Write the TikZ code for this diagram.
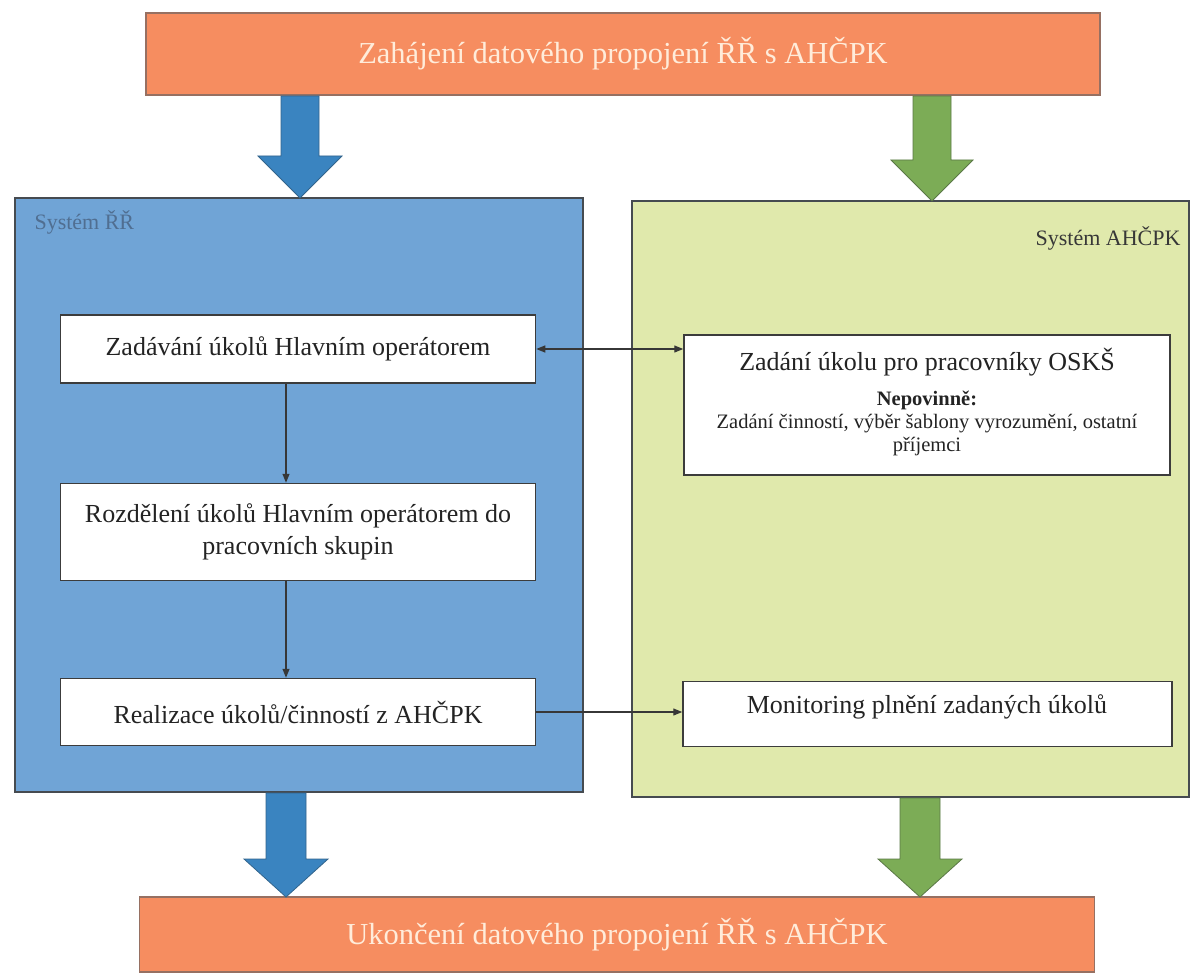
\documentclass[tikz,border=0pt]{standalone}
\usepackage{fontspec}
\setmainfont{Liberation Serif}
\usetikzlibrary{arrows.meta}
\definecolor{orangebar}{RGB}{246,141,96}
\definecolor{orangeedge}{RGB}{150,112,98}
\definecolor{bartext}{RGB}{255,236,218}
\definecolor{bluebox}{RGB}{112,164,214}
\definecolor{bluearrow}{RGB}{58,132,192}
\definecolor{bluearrowedge}{RGB}{50,100,140}
\definecolor{greenbox}{RGB}{224,233,172}
\definecolor{greenarrow}{RGB}{124,172,86}
\definecolor{greenarrowedge}{RGB}{90,120,70}
\definecolor{boxedge}{RGB}{70,75,80}
\definecolor{stepedge}{RGB}{60,60,60}
\definecolor{textcol}{RGB}{35,35,35}
\definecolor{rrlabel}{RGB}{80,110,145}
\definecolor{ahlabel}{RGB}{55,55,55}
\definecolor{arrowcol}{RGB}{55,55,55}
\newcommand{\blockarrow}[8]{% fill, edge, x, ytop, ybase, ytip, halfshaft, halfhead
  \filldraw[fill=#1, draw=#2, line width=0.8pt, line join=miter]
    (#3-#7,#4) -- (#3+#7,#4) -- (#3+#7,#5) -- (#3+#8,#5) -- (#3,#6)
    -- (#3-#8,#5) -- (#3-#7,#5) -- cycle;}
\begin{document}
\begin{tikzpicture}[x=1pt,y=-1pt,
  bar/.style={draw=orangeedge, line width=1.2pt, fill=orangebar, text=bartext,
    font=\fontsize{30.5}{33}\selectfont, inner sep=0pt},
  sysbox/.style={draw=boxedge, line width=1.2pt, inner sep=0pt},
  stepbox/.style={draw=stepedge, line width=1.5pt, fill=white, align=center,
    text=textcol, font=\fontsize{26}{32}\selectfont, inner sep=0pt},
  steptext/.style={text=textcol, font=\fontsize{26}{30}\selectfont, align=center, inner sep=0pt},
  smalltext/.style={text=textcol, font=\fontsize{20.5}{23}\selectfont, align=center, inner sep=0pt},
  thinarrow/.style={draw=arrowcol, line width=1.2pt, -{Triangle[length=9pt,width=7pt]}},
  twoarrow/.style={draw=arrowcol, line width=1.2pt, {Triangle[length=9pt,width=7pt]}-{Triangle[length=9pt,width=7pt]}},
]
\useasboundingbox (0,0) rectangle (1193,976);
\fill[white] (0,0) rectangle (1193,976);

% bars
\node[bar, minimum width=954pt, minimum height=82pt] (top) at (623,54) {Zahájení datového propojení ŘŘ s AHČPK};
\node[bar, minimum width=955pt, minimum height=75pt] (bot) at (617,934.5) {Ukončení datového propojení ŘŘ s AHČPK};

% system boxes
\node[sysbox, fill=bluebox, minimum width=568pt, minimum height=594pt] (rr) at (299,495) {};
\node[sysbox, fill=greenbox, minimum width=557pt, minimum height=596pt] (ah) at (910.5,499) {};
\node[text=rrlabel, font=\fontsize{22}{24}\selectfont, anchor=west] (rrl) at (31,222) {Systém ŘŘ};
\node[text=ahlabel, font=\fontsize{22}{24}\selectfont, anchor=east] (ahl) at (1184,238) {Systém AHČPK};

% big arrows
\blockarrow{bluearrow}{bluearrowedge}{300}{96}{156}{198}{19}{42}
\blockarrow{greenarrow}{greenarrowedge}{932}{96}{160}{201}{19}{41}
\blockarrow{bluearrow}{bluearrowedge}{286}{793}{859}{897}{20}{42}
\blockarrow{greenarrow}{greenarrowedge}{920}{798}{859}{897}{20}{42}

% step boxes left
\node[stepbox, minimum width=475pt, minimum height=68pt] (b1) at (298,349) {Zadávání úkolů Hlavním operátorem};
\node[stepbox, minimum width=475pt, minimum height=97pt] (b2) at (298,532) {Rozdělení úkolů Hlavním operátorem do\\pracovních skupin};
\node[stepbox, minimum width=475pt, minimum height=67pt] (b3) at (298,712) {Realizace úkolů/činností z AHČPK};

% step boxes right
\node[stepbox, minimum width=486pt, minimum height=140pt] (r1) at (927,405) {};
\node[steptext] (r1t) at (927,362) {Zadání úkolu pro pracovníky OSKŠ};
\node[smalltext, font=\bfseries\fontsize{20.5}{23}\selectfont] (r1n) at (927,400) {Nepovinně:};
\node[smalltext] (r1b) at (927,435) {Zadání činností, výběr šablony vyrozumění, ostatní\\příjemci};
\node[stepbox, minimum width=489pt, minimum height=65pt] (r2) at (927.5,714) {};
\node[steptext] (r2t) at (927,707) {Monitoring plnění zadaných úkolů};

% connectors
\draw[twoarrow] (b1.east) -- (b1.east -| r1.west);
\draw[thinarrow] ([xshift=-12pt]b1.south) -- ([xshift=-12pt]b2.north);
\draw[thinarrow] ([xshift=-12pt]b2.south) -- ([xshift=-12pt]b3.north);
\draw[thinarrow] (b3.east) -- (b3.east -| r2.west);
\end{tikzpicture}
\end{document}
